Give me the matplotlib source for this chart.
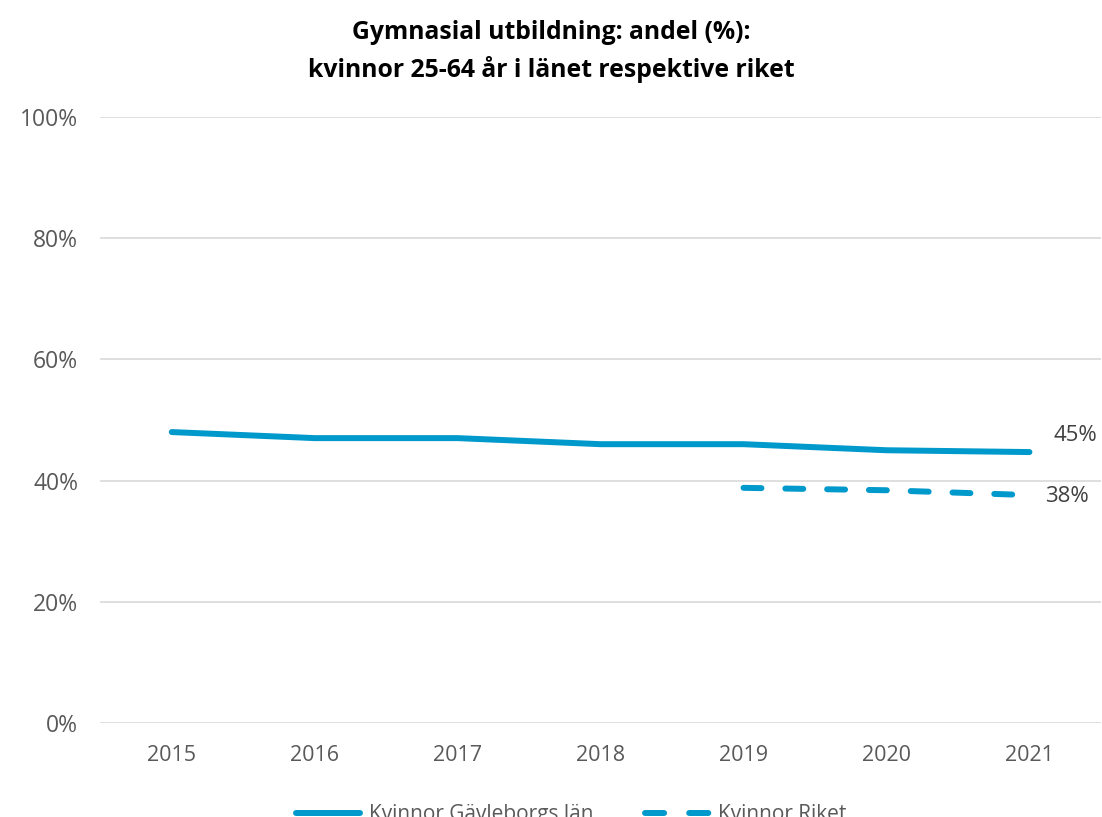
import numpy as np
import matplotlib.pyplot as plt
from matplotlib.ticker import PercentFormatter

# Data
years = ['2015', '2016', '2017', '2018', '2019', '2020', '2021']
lan = [48.0, 47.0, 47.0, 46.0, 46.0, 45.0, 44.7]
riket_years = ['2019', '2020', '2021']
riket = [38.8, 38.4, 37.6]

blue = '#0099CC'
grey = '#595959'

plt.rcParams['font.family'] = ['Open Sans', 'DejaVu Sans']

fig = plt.figure(figsize=(11.02, 8.17), dpi=100)
ax = fig.add_axes([0.091, 0.115, 0.908, 0.742])

x = np.arange(len(years))
xr = np.array([years.index(y) for y in riket_years])

ax.plot(x, lan, color=blue, lw=4.3, solid_capstyle='round',
        solid_joinstyle='round', label='Kvinnor Gävleborgs län')
ax.plot(xr, riket, color=blue, lw=4.3, dashes=(3.0, 4.0),
        dash_capstyle='round', label='Kvinnor Riket')

ax.text(x[-1] + 0.17, lan[-1] + 2.8, f'{lan[-1]:.0f}%', fontsize=16,
        color='#404040', va='center', ha='left')
ax.text(x[-1] + 0.11, riket[-1] - 0.3, f'{riket[-1]:.0f}%', fontsize=16,
        color='#404040', va='center', ha='left')

ax.set_xlim(-0.5, len(years) - 0.5)
ax.set_ylim(0, 100)
ax.set_yticks(range(0, 101, 20))
ax.yaxis.set_major_formatter(PercentFormatter(decimals=0))
ax.set_xticks(x)
ax.set_xticklabels(years)
ax.tick_params(axis='y', labelsize=16.5, labelcolor=grey, length=0, pad=16)
ax.tick_params(axis='x', labelsize=15.5, labelcolor=grey, length=0, pad=16)
ax.grid(axis='y', color='#D9D9D9', lw=1.2)
ax.set_axisbelow(True)
for s in ax.spines.values():
    s.set_visible(False)

fig.suptitle('Gymnasial utbildning: andel (%):\nkvinnor 25-64 år i länet respektive riket',
             fontsize=17.8, fontweight='bold', y=0.975, linespacing=1.48)

leg = ax.legend(loc='upper center', bbox_to_anchor=(0.4705, -0.103), ncol=2,
                frameon=False, fontsize=15, labelcolor=grey, handlelength=3.1,
                columnspacing=2.5, handletextpad=0.4)
for ln in leg.get_lines():
    ln.set_solid_capstyle('round')
    ln.set_dash_capstyle('round')
leg.get_lines()[1].set_dashes((3.2, 4.2))

fig.savefig('out.png', dpi=100)
